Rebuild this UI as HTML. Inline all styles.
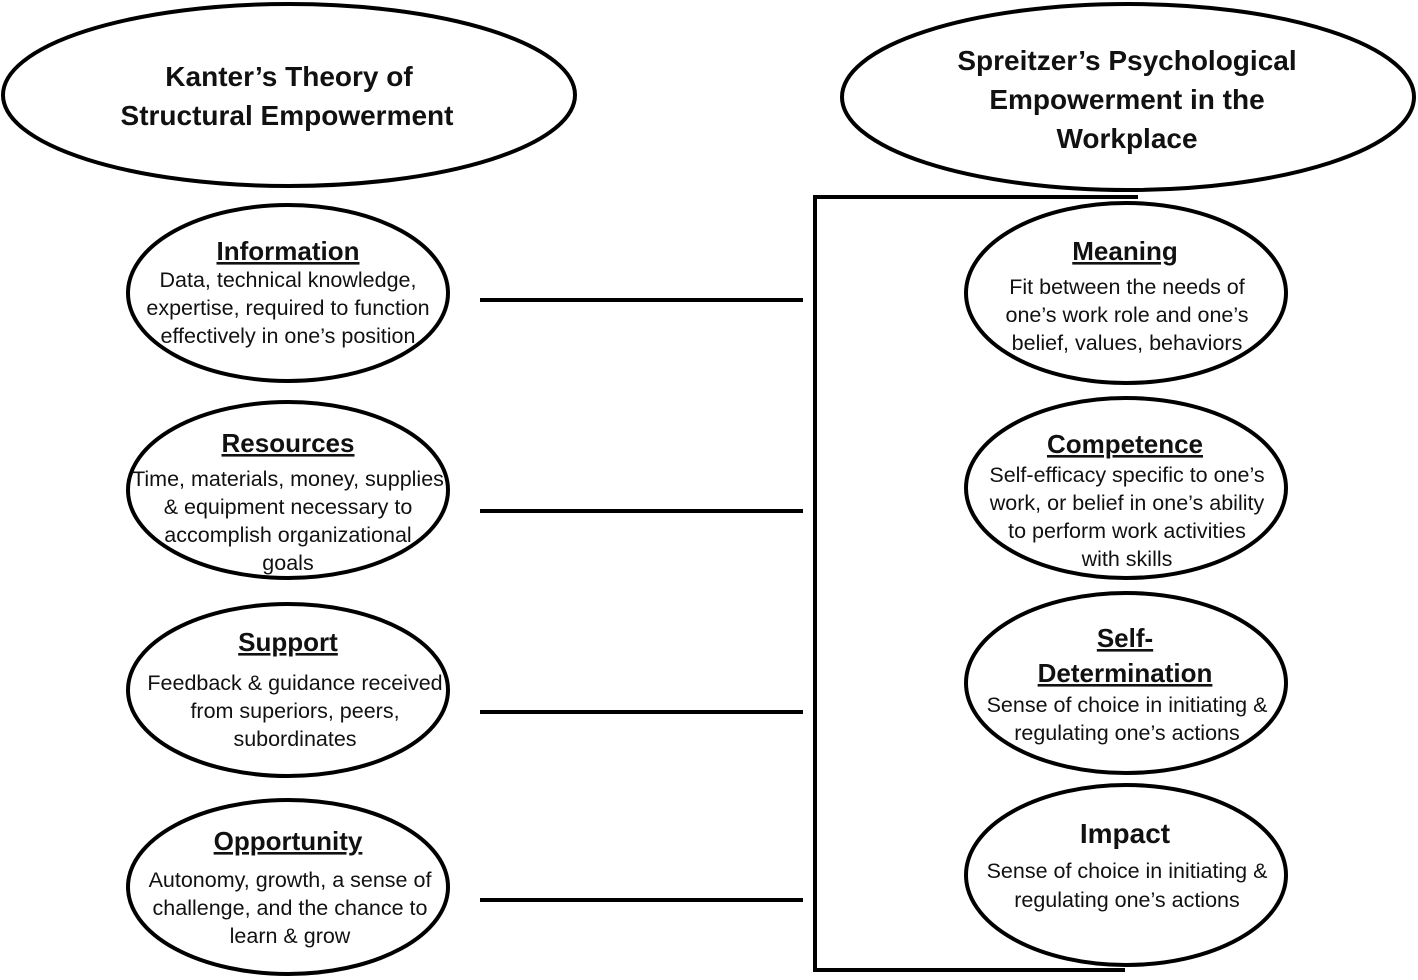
<!DOCTYPE html>
<html><head><style>
html,body{margin:0;padding:0;background:#fff;}
svg{display:block;}
text{font-family:"Liberation Sans",sans-serif;fill:#111;text-anchor:middle;}
.t{font-size:28px;font-weight:bold;}
.h{font-size:26px;font-weight:bold;text-decoration:underline;}
.b{font-size:21.5px;}
</style></head><body>
<svg width="1418" height="980" viewBox="0 0 1418 980">
<g fill="none" stroke="#000" stroke-width="4">
<ellipse cx="289" cy="95" rx="286" ry="91"/>
<ellipse cx="1128" cy="97" rx="286" ry="93"/>
<ellipse cx="288" cy="293" rx="160" ry="88"/>
<ellipse cx="288" cy="490" rx="160" ry="88"/>
<ellipse cx="288" cy="690" rx="160" ry="86"/>
<ellipse cx="288" cy="887" rx="160" ry="87"/>
<ellipse cx="1126" cy="293" rx="160" ry="90"/>
<ellipse cx="1126" cy="488" rx="160" ry="90"/>
<ellipse cx="1126" cy="683" rx="160" ry="90"/>
<ellipse cx="1126" cy="875" rx="160" ry="90"/>
<line x1="480" y1="300" x2="803" y2="300"/>
<line x1="480" y1="511" x2="803" y2="511"/>
<line x1="480" y1="712" x2="803" y2="712"/>
<line x1="480" y1="900" x2="803" y2="900"/>
<polyline points="1138,197 815,197 815,970 1125,970"/>
</g>
<text class="t" x="289" y="86">Kanter’s Theory of</text>
<text class="t" x="287" y="125">Structural Empowerment</text>
<text class="t" x="1127" y="70">Spreitzer’s Psychological</text>
<text class="t" x="1127" y="109">Empowerment in the</text>
<text class="t" x="1127" y="148">Workplace</text>

<text class="h" x="288" y="260">Information</text>
<text class="b" x="288" y="287">Data, technical knowledge,</text>
<text class="b" x="288" y="315">expertise, required to function</text>
<text class="b" x="288" y="343">effectively in one’s position</text>

<text class="h" x="288" y="452">Resources</text>
<text class="b" x="288" y="486">Time, materials, money, supplies</text>
<text class="b" x="288" y="514">&amp; equipment necessary to</text>
<text class="b" x="288" y="542">accomplish organizational</text>
<text class="b" x="288" y="570">goals</text>

<text class="h" x="288" y="651">Support</text>
<text class="b" x="295" y="690">Feedback &amp; guidance received</text>
<text class="b" x="295" y="718">from superiors, peers,</text>
<text class="b" x="295" y="746">subordinates</text>

<text class="h" x="288" y="850">Opportunity</text>
<text class="b" x="290" y="887">Autonomy, growth, a sense of</text>
<text class="b" x="290" y="915">challenge, and the chance to</text>
<text class="b" x="290" y="943">learn &amp; grow</text>

<text class="h" x="1125" y="260">Meaning</text>
<text class="b" x="1127" y="294">Fit between the needs of</text>
<text class="b" x="1127" y="322">one’s work role and one’s</text>
<text class="b" x="1127" y="350">belief, values, behaviors</text>

<text class="h" x="1125" y="453">Competence</text>
<text class="b" x="1127" y="482">Self-efficacy specific to one’s</text>
<text class="b" x="1127" y="510">work, or belief in one’s ability</text>
<text class="b" x="1127" y="538">to perform work activities</text>
<text class="b" x="1127" y="566">with skills</text>

<text class="h" x="1125" y="647">Self-</text>
<text class="h" x="1125" y="682">Determination</text>
<text class="b" x="1127" y="712">Sense of choice in initiating &amp;</text>
<text class="b" x="1127" y="740">regulating one’s actions</text>

<text class="t" x="1125" y="843">Impact</text>
<text class="b" x="1127" y="878">Sense of choice in initiating &amp;</text>
<text class="b" x="1127" y="907">regulating one’s actions</text>
</svg>
</body></html>
